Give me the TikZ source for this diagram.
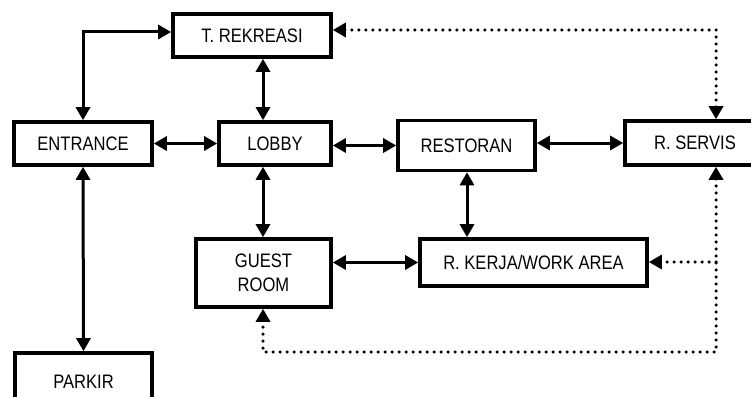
\documentclass[tikz,border=0pt]{standalone}
\usepackage{fontspec}
\setmainfont[FakeStretch=0.85]{Liberation Sans}
\usetikzlibrary{arrows.meta,calc}
\begin{document}
\begin{tikzpicture}[x=1pt,y=-1pt,
 box/.style={draw,line width=3.6pt,inner sep=0pt,font=\fontsize{19.5}{24}\selectfont,align=center},
 link/.style={line width=3pt,{Triangle[length=13pt,width=14pt]}-{Triangle[length=13pt,width=14pt]}},
 dots/.style={line width=3.5pt,line cap=round,dash pattern=on 0pt off 7pt},
 twotips/.style={{Triangle[length=13pt,width=14pt]}-{Triangle[length=13pt,width=14pt]}},
 onetip/.style={-{Triangle[length=13pt,width=14pt]}}
]
\useasboundingbox (0,0) rectangle (751,396);
\node[box,minimum width=158pt,minimum height=43pt] (TR) at (252,35.5) {T. REKREASI};
\node[box,minimum width=138pt,minimum height=43pt] (EN) at (83,143.5) {ENTRANCE};
\node[box,minimum width=112pt,minimum height=43pt] (LB) at (275,143.5) {LOBBY};
\node[box,minimum width=137pt,minimum height=50pt] (RES) at (466.5,145.5) {RESTORAN};
\node[box,minimum width=140pt,minimum height=44pt] (RS) at (695,143) {R. SERVIS};
\node[box,minimum width=135pt,minimum height=68pt] (GR) at (263.5,273) {GUEST\\ROOM};
\node[box,minimum width=137pt,minimum height=58pt] (PK) at (83.5,382) {PARKIR};
\node[box,minimum width=227pt,minimum height=47pt] (RK) at (533.5,262.5) {R. KERJA/WORK AREA};

\coordinate (vL) at (263,0);
\coordinate (vR) at (467,0);

\draw[link] (EN.north) |- ([yshift=3.5pt]TR.west);
\draw[link] (TR.south -| vL) -- (LB.north -| vL);
\draw[link] (EN.east) -- (LB.west);
\draw[link] ([yshift=-2pt]LB.east) -- ([yshift=-2pt]LB.east -| RES.west);
\draw[link] (RES.east |- RS.west) -- (RS.west);
\draw[link] (LB.south -| vL) -- (GR.north -| vL);
\draw[link] (RES.south -| vR) -- (RK.north -| vR);
\draw[link] (GR.east |- RK.west) -- (RK.west);
\draw[link] (EN.south) -- (PK.north);

\coordinate (c1) at (716,30);
\coordinate (c2) at (716,352);
\coordinate (c3) at (263,352);
\coordinate (c4) at (716,262);
\draw[dots,twotips] (TR.east |- c1) -- (c1) -- (RS.north -| c1);
\draw[dots,twotips] (RS.south -| c2) -- (c2) -- (c3) -- (GR.south -| c3);
\draw[dots,onetip] (c4) -- (RK.east |- c4);
\end{tikzpicture}
\end{document}
